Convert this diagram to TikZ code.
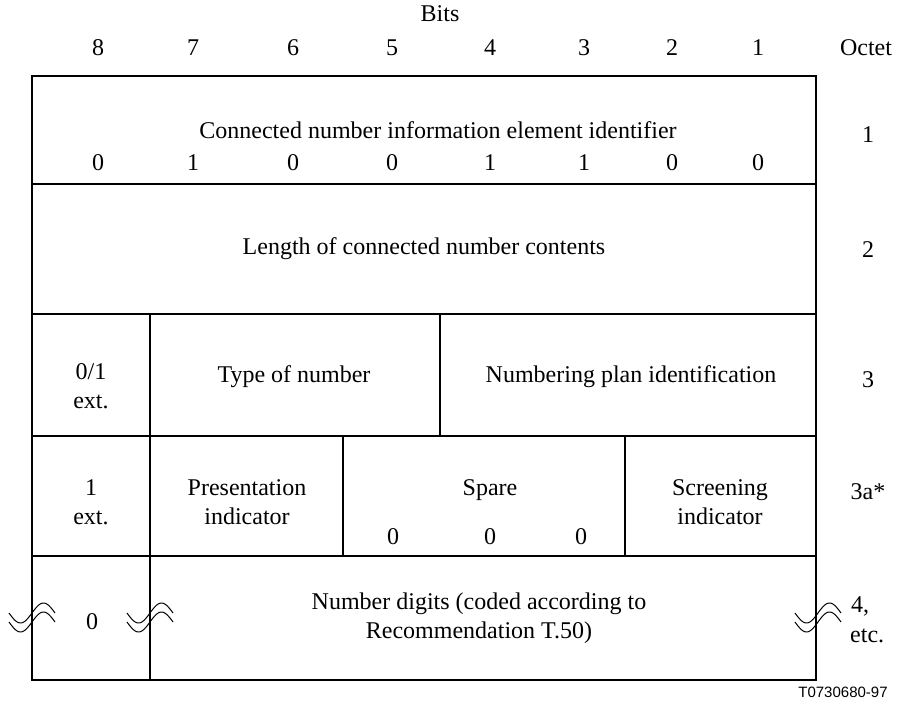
\documentclass[tikz,border=0pt]{standalone}
\usepackage{fontspec}
\setmainfont{Liberation Serif}
\setsansfont{Liberation Sans}
\begin{document}
\begin{tikzpicture}[x=1pt,y=-1pt,
  lbl/.style={inner sep=0pt, font=\fontsize{24}{29.5}\selectfont, align=center},
  frame/.style={line width=1.1pt},
  brk/.style={line width=1pt},
  brkpic/.pic={
    \draw[brk] plot[domain=-1:1,samples=40,smooth] ({23*\x},{-10*sin(180*\x)});
    \draw[brk] plot[domain=-1:1,samples=40,smooth] ({23*\x},{9-10*sin(180*\x)});
  }]
\useasboundingbox (0,0) rectangle (898,707);
% frame and grid
\draw[frame] (32,76) rectangle (816,680);
\draw[frame] (32,184) -- (816,184);
\draw[frame] (32,314) -- (816,314);
\draw[frame] (32,436) -- (816,436);
\draw[frame] (32,556) -- (816,556);
\draw[frame] (150,314) -- (150,680);
\draw[frame] (440,314) -- (440,436);
\draw[frame] (343,436) -- (343,556);
\draw[frame] (625,436) -- (625,556);
% header
\node[lbl] (bits) at (440,14) {Bits};
\foreach \b/\xx in {8/98,7/193,6/293,5/392,4/490,3/584,2/672,1/758}
  \node[lbl] (b\b) at (\xx,48) {\b};
\node[lbl] (octet) at (866,48) {Octet};
% row 1
\node[lbl] (r1) at (438,130) {Connected number information element identifier};
\foreach \v/\xx [count=\i] in {0/98,1/193,0/293,0/392,1/490,1/584,0/672,0/758}
  \node[lbl] (d\i) at (\xx,163) {\v};
\node[lbl] (o1) at (868,135) {1};
% row 2
\node[lbl] (r2) at (424,249) {Length of connected number contents};
\node[lbl] (o2) at (868,250) {2};
% row 3
\node[lbl] (ext3) at (91,386) {0/1\\ext.};
\node[lbl] (ton) at (294,377) {Type of number};
\node[lbl] (npi) at (631,377) {Numbering plan identification};
\node[lbl] (o3) at (868,380) {3};
% row 4
\node[lbl] (ext4) at (91,502) {1\\ext.};
\node[lbl] (pres) at (247,502) {Presentation\\indicator};
\node[lbl] (spare) at (490,490) {Spare};
\foreach \xx [count=\i] in {393,490,581}
  \node[lbl] (s\i) at (\xx,537) {0};
\node[lbl] (scr) at (720,502) {Screening\\indicator};
\node[lbl] (o3a) at (868,492) {3a*};
% row 5
\node[lbl] (z5) at (92,622) {0};
\node[lbl] (digits) at (479,618) {Number digits (coded according to\\Recommendation T.50)};
\node[lbl, anchor=west] (o4) at (851,606) {4,};
\node[lbl, anchor=west] (o4b) at (850,636) {etc.};
% break marks
\pic at (32,613) {brkpic};
\pic at (150,613) {brkpic};
\pic at (818,613) {brkpic};
% figure id
\node[inner sep=0pt, font=\sffamily\fontsize{15}{18}\selectfont] (fid) at (843,692) {T0730680-97};
\end{tikzpicture}
\end{document}
